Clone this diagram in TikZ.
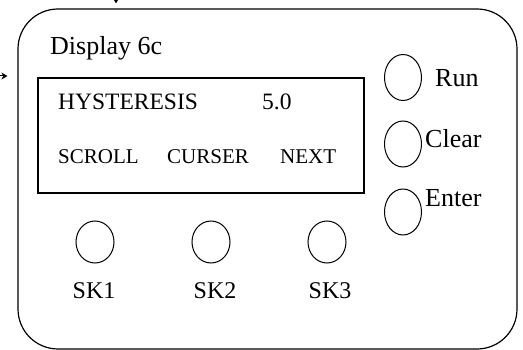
\documentclass[tikz,border=0pt]{standalone}
\usepackage{fontspec}
\setmainfont{Liberation Serif}
\usetikzlibrary{shapes.geometric, arrows.meta, positioning}

\begin{document}
\begin{tikzpicture}
                [x=1pt, y=-1pt,
                panel/.style={
                    draw,
                    line width=1.2pt,
                    rounded corners=40pt,
                    minimum width=499pt,
                    minimum height=340pt,
                    inner sep=0pt
                },
                screen/.style={
                    draw,
                    line width=1.2pt,
                    minimum width=326pt,
                    minimum height=115pt,
                    inner sep=0pt
                },
                key/.style={
                    ellipse,
                    draw,
                    line width=1pt,
                    minimum width=38pt,
                    minimum height=44pt,
                    inner sep=0pt
                },
                caption/.style={inner sep=0pt, font=\fontsize{26}{30}\selectfont},
                softcap/.style={inner sep=0pt, font=\fontsize{24}{28}\selectfont},
                lcd/.style={inner sep=0pt, font=\fontsize{23.5}{28}\selectfont},
                lcdsmall/.style={inner sep=0pt, font=\fontsize{21}{25}\selectfont},
                feed/.style={
                    draw, line width=1pt, -{Stealth[length=6pt,width=7pt]}
                }
                ]
                \useasboundingbox (0,0) rectangle (523,350);

                % Controller panel
                \node[panel] (panel) at (267.5,179) {};
                \node[caption, anchor=base west] (title) at (50,55) {Display 6c};

                % LCD screen
                \node[screen] (lcd) at (201,135.5) {};
                \node[lcd, anchor=base west] (param) at (58,110) {HYSTERESIS};
                \node[lcd, anchor=base west] (value) at (262,110) {5.0};
                \node[lcdsmall, anchor=base west] (scroll) at (58,164) {SCROLL};
                \node[lcdsmall, anchor=base west] (curser) at (167,164) {CURSER};
                \node[lcdsmall, anchor=base west] (next) at (280,164) {NEXT};

                % Soft keys under the screen
                \foreach \pos/\x/\lx in {1/95/94, 2/211/215, 3/327/330}{
                    \node[key, minimum height=42pt] (SK\pos) at (\x,242) {};
                    \node[softcap, anchor=base] (SKlabel\pos) at (\lx,299) {SK\pos};
                }

                % Function keys on the right
                \foreach \name/\y/\ly/\lx in {Run/77.5/87/435, Clear/144/148/425, Enter/212/207/425}{
                    \node[key, minimum width=37pt, minimum height=46pt] (\name) at (403,\y) {};
                    \node[caption, anchor=base west] (\name label) at (\lx,\ly) {\name};
                }

                % Incoming arrows
                \coordinate (feedtop) at (116,-5);
                \coordinate (feedleft) at (-5,76);
                \path [feed] (feedtop) -- ([yshift=5pt]feedtop |- panel.north);
                \path [feed] (feedleft) -- ([xshift=-10pt]panel.west |- feedleft);
            \end{tikzpicture}
\end{document}
